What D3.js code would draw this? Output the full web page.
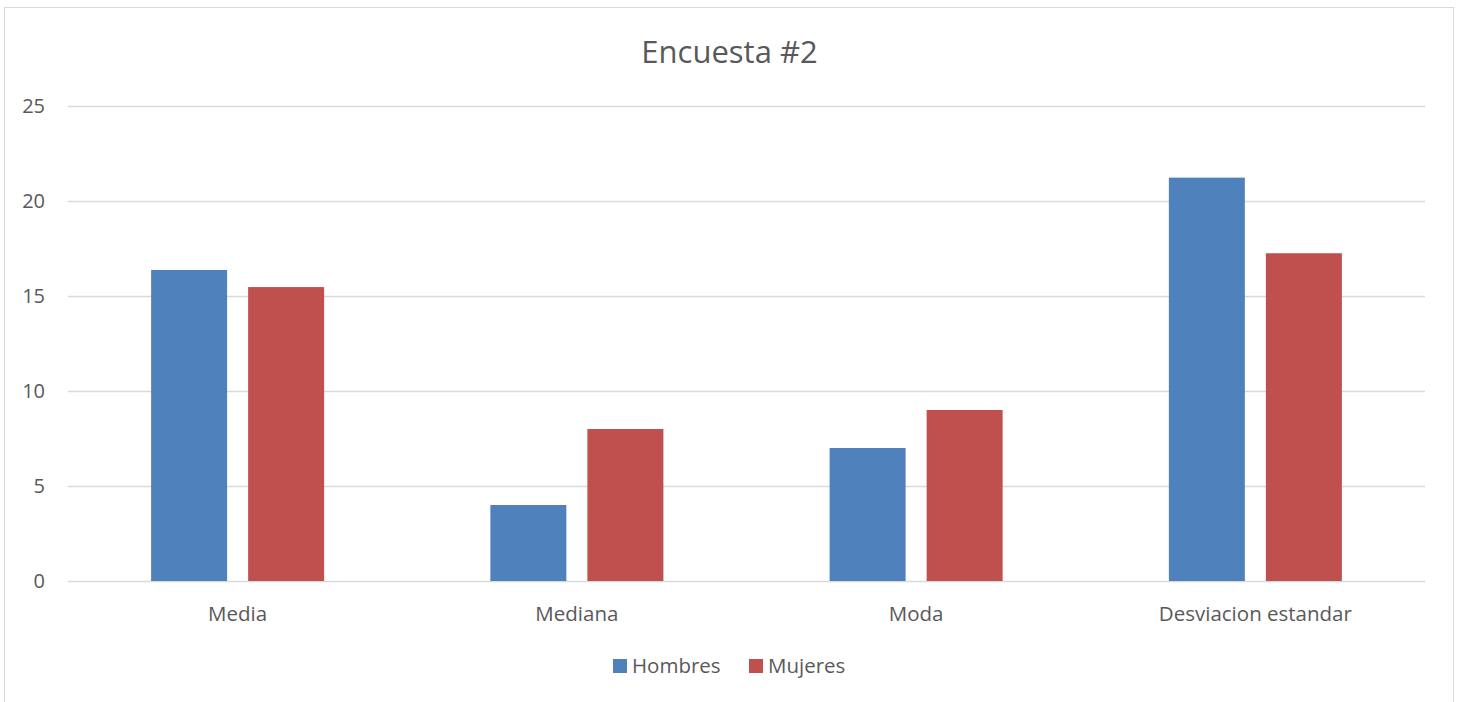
<!DOCTYPE html>
<html>
<head>
<meta charset="utf-8">
<script src="https://cdn.jsdelivr.net/npm/d3@7"></script>
<style>
  html, body { margin: 0; padding: 0; background: #fff; }
  svg { display: block; }
  text { font-family: "Open Sans", "Noto Sans", sans-serif; fill: #595959; }
</style>
</head>
<body>
<svg id="chart" width="1459" height="702"></svg>
<script>
// Survey statistics by group
const categories = ["Media", "Mediana", "Moda", "Desviacion estandar"];
const seriesNames = ["Hombres", "Mujeres"];
const hombres = [16.37, 4, 7, 21.23];
const mujeres = [15.47, 8, 9, 17.25];
const yTicks = [0, 5, 10, 15, 20, 25];
const colors = ["#4f81bd", "#c0504d"];

const svg = d3.select("#chart");

// outer chart frame
svg.append("rect")
  .attr("x", 4.5).attr("y", 7.5)
  .attr("width", 1449).attr("height", 720)
  .attr("fill", "#fff").attr("stroke", "#d9d9d9").attr("stroke-width", 1);

const plot = { left: 68, right: 1425, top: 106, bottom: 581 };

const x = d3.scaleBand().domain(categories).range([plot.left, plot.right]).paddingInner(0).paddingOuter(0);
const y = d3.scaleLinear().domain([0, 25]).range([plot.bottom, plot.top]);

// gridlines
svg.append("g").selectAll("line").data(yTicks).join("line")
  .attr("x1", plot.left).attr("x2", plot.right)
  .attr("y1", d => Math.round(y(d)) + 0.5).attr("y2", d => Math.round(y(d)) + 0.5)
  .attr("stroke", "#d9d9d9").attr("stroke-width", 1.3);

// y tick labels
svg.append("g").selectAll("text").data(yTicks).join("text")
  .attr("x", 45).attr("y", d => y(d) + 7)
  .attr("text-anchor", "end")
  .style("font-size", "20px")
  .text(d => d);

// bars
const barW = x.bandwidth() * 0.224;
const gap = x.bandwidth() * 0.062;
const rows = categories.map((c, i) => ({ c, vals: [hombres[i], mujeres[i]] }));
const groups = svg.append("g").selectAll("g").data(rows).join("g");
groups.selectAll("rect").data(d => d.vals.map((v, j) => ({ c: d.c, v, j }))).join("rect")
  .attr("x", d => x(d.c) + x.bandwidth() / 2 + (d.j === 0 ? -gap / 2 - barW : gap / 2))
  .attr("width", barW)
  .attr("y", d => y(d.v))
  .attr("height", d => y(0) - y(d.v))
  .attr("fill", d => colors[d.j]);

// category labels
svg.append("g").selectAll("text").data(categories).join("text")
  .attr("x", d => x(d) + x.bandwidth() / 2)
  .attr("y", 620.5)
  .attr("text-anchor", "middle")
  .style("font-size", "20.5px")
  .text(d => d);

// title
svg.append("text")
  .attr("x", 729.5).attr("y", 63)
  .attr("text-anchor", "middle")
  .style("font-size", "31px")
  .text("Encuesta #2");

// legend
const legendX = [613, 749];
const legend = svg.append("g").selectAll("g").data(seriesNames).join("g")
  .attr("transform", (d, i) => `translate(${legendX[i]},659)`);
legend.append("rect").attr("width", 14).attr("height", 14).attr("fill", (d, i) => colors[i]);
legend.append("text").attr("x", 19).attr("y", 14)
  .style("font-size", "20.5px").text(d => d);
</script>
</body>
</html>
